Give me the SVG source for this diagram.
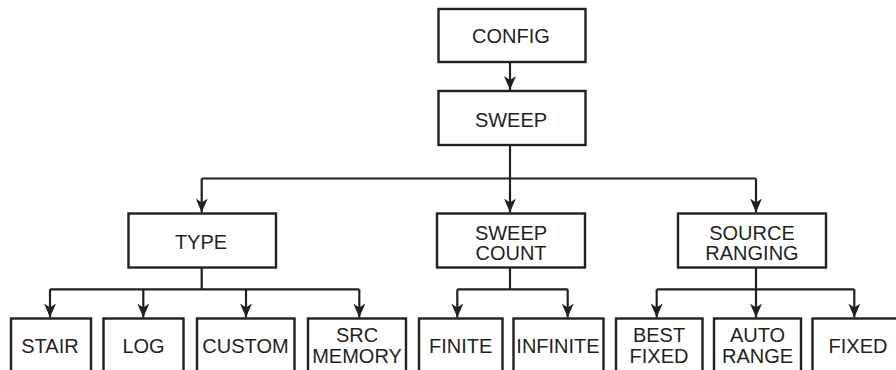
<svg xmlns="http://www.w3.org/2000/svg" width="896" height="370" viewBox="0 0 896 370">
<defs>
<style>
.box{fill:#fff;stroke:#231f20;stroke-width:2.4}
.c{fill:none;stroke:#231f20;stroke-width:2.2}
.a{marker-end:url(#ah)}
text{font-family:"Liberation Sans",Arial,sans-serif;font-size:20px;fill:#231f20;text-anchor:middle}
</style>
<marker id="ah" viewBox="0 0 14 12" refX="14" refY="6" markerWidth="14" markerHeight="12" markerUnits="userSpaceOnUse" orient="auto">
<path d="M0,0 L14,6 L0,12 L4,6 z" fill="#231f20"/>
</marker>
</defs>
<rect width="896" height="370" fill="#fff"/>
<g id="connectors">
<path class="c a" d="M510,62 V90"/>
<path class="c" d="M510,145 V178.5 M201.7,178.5 H756"/>
<path class="c a" d="M510,178.5 V212.5"/>
<path class="c a" d="M201.7,178.5 V212.5"/>
<path class="c a" d="M756,178.5 V212.5"/>
<path class="c" d="M201.7,267 V289.3 M50,289.3 H359.3"/>
<path class="c a" d="M50,289.3 V317.5"/>
<path class="c a" d="M143.3,289.3 V317.5"/>
<path class="c a" d="M246,289.3 V317.5"/>
<path class="c a" d="M359.3,289.3 V317.5"/>
<path class="c" d="M510,267 V289.3 M457.3,289.3 H567.7"/>
<path class="c a" d="M457.3,289.3 V317.5"/>
<path class="c a" d="M567.7,289.3 V317.5"/>
<path class="c" d="M756,267 V289.3 M656.7,289.3 H854.3"/>
<path class="c a" d="M656.7,289.3 V317.5"/>
<path class="c a" d="M756,289.3 V317.5"/>
<path class="c a" d="M854.3,289.3 V317.5"/>
</g>
<g id="config"><rect class="box" x="438.5" y="9" width="147" height="53"/><text x="511" y="43">CONFIG</text></g>
<g id="sweep"><rect class="box" x="438.5" y="91" width="147" height="54"/><text x="511" y="126.5">SWEEP</text></g>
<g id="type"><rect class="box" x="128.5" y="213.5" width="147.5" height="54"/><text x="201" y="249">TYPE</text></g>
<g id="sweep-count"><rect class="box" x="437" y="213.5" width="148" height="54"/><text x="511" y="240">SWEEP</text><text x="511" y="260">COUNT</text></g>
<g id="source-ranging"><rect class="box" x="678" y="213.5" width="148" height="54"/><text x="752" y="240">SOURCE</text><text x="752" y="260">RANGING</text></g>
<g id="stair"><rect class="box" x="11" y="318.5" width="80" height="70"/><text x="50" y="353">STAIR</text></g>
<g id="log"><rect class="box" x="103.5" y="318.5" width="80" height="70"/><text x="143.5" y="353">LOG</text></g>
<g id="custom"><rect class="box" x="197" y="318.5" width="97.5" height="70"/><text x="245.5" y="353">CUSTOM</text></g>
<g id="src-memory"><rect class="box" x="308" y="318.5" width="98" height="70"/><text x="357" y="341.5">SRC</text><text x="357" y="363">MEMORY</text></g>
<g id="finite"><rect class="box" x="419" y="318.5" width="83.5" height="70"/><text x="460.7" y="353">FINITE</text></g>
<g id="infinite"><rect class="box" x="513.5" y="318.5" width="90" height="70"/><text x="558" y="353">INFINITE</text></g>
<g id="best-fixed"><rect class="box" x="616" y="318.5" width="86.5" height="70"/><text x="659" y="341.5">BEST</text><text x="659" y="363">FIXED</text></g>
<g id="auto-range"><rect class="box" x="714" y="318.5" width="87" height="70"/><text x="757.5" y="341.5">AUTO</text><text x="757.5" y="363">RANGE</text></g>
<g id="fixed"><rect class="box" x="812.5" y="318.5" width="95" height="70"/><text x="858" y="353">FIXED</text></g>
</svg>
